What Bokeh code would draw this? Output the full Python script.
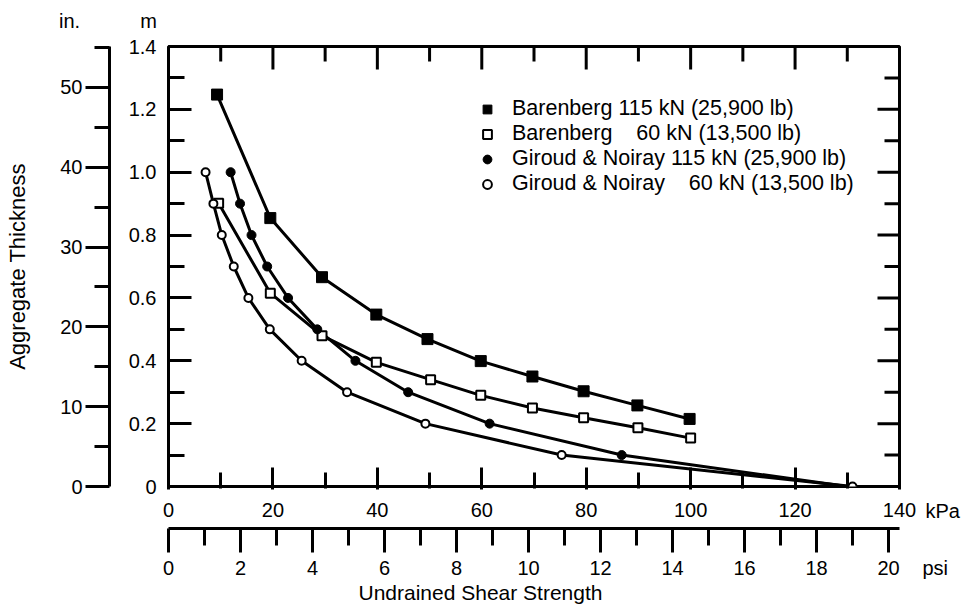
import math
from bokeh.plotting import figure
from bokeh.models import Range1d, LinearAxis, FixedTicker, Label, Legend, LegendItem
from bokeh.embed import file_html
from bokeh.resources import INLINE

# ---------------- data ----------------
bar115_kpa = [9.3, 19.5, 29.4, 39.8, 49.6, 59.8, 69.7, 79.5, 89.8, 99.8]
bar115_m = [1.247, 0.854, 0.666, 0.547, 0.469, 0.399, 0.350, 0.303, 0.258, 0.215]

bar60_kpa = [9.6, 19.5, 29.4, 39.8, 50.2, 59.8, 69.7, 79.5, 89.9, 100.0]
bar60_m = [0.901, 0.615, 0.480, 0.395, 0.340, 0.290, 0.250, 0.219, 0.187, 0.154]

gn115_kpa = [11.9, 13.7, 15.9, 18.9, 22.9, 28.5, 35.8, 45.9, 61.5, 86.8, 130.0]
gn115_m = [1.0, 0.9, 0.8, 0.7, 0.6, 0.5, 0.4, 0.3, 0.2, 0.1, 0.0]

gn60_kpa = [7.1, 8.6, 10.2, 12.5, 15.3, 19.4, 25.5, 34.2, 49.2, 75.3, 131.0]
gn60_m = [1.0, 0.9, 0.8, 0.7, 0.6, 0.5, 0.4, 0.3, 0.2, 0.1, 0.0]

series_labels = [
    "Barenberg 115 kN (25,900 lb)",
    "Barenberg\u00a0\u00a0\u00a0 60 kN (13,500 lb)",
    "Giroud & Noiray 115 kN (25,900 lb)",
    "Giroud & Noiray\u00a0\u00a0\u00a0 60 kN (13,500 lb)",
]

kpa_ticks = [0, 20, 40, 60, 80, 100, 120, 140]
kpa_minor = [10, 30, 50, 70, 90, 110, 130]
psi_ticks = [0, 2, 4, 6, 8, 10, 12, 14, 16, 18, 20]
psi_minor = [1, 3, 5, 7, 9, 11, 13, 15, 17, 19]
m_ticks = [0, 0.2, 0.4, 0.6, 0.8, 1.0, 1.2, 1.4]
m_labels = ["0", "0.2", "0.4", "0.6", "0.8", "1.0", "1.2", "1.4"]
m_minor = [0.1, 0.3, 0.5, 0.7, 0.9, 1.1, 1.3]
in_ticks = [0, 10, 20, 30, 40, 50]
in_minor = [5, 15, 25, 35, 45, 55]

KPA_MAX = 140.0
M_MAX = 1.4
PSI_PER_KPA = 1 / 6.894757
IN_PER_M = 1 / 0.0254

FONT = "Liberation Sans"
TICK_FS = "20px"
TITLE_FS = "22px"
LEGEND_FS = "21.5px"

p = figure(width=967, height=607,
           x_range=Range1d(0, KPA_MAX), y_range=Range1d(0, M_MAX),
           output_backend="svg", toolbar_location=None,
           min_border_left=168, min_border_right=68,
           min_border_top=46, min_border_bottom=121)
p.xgrid.visible = False
p.ygrid.visible = False
p.outline_line_color = "black"
p.outline_line_width = 3
p.background_fill_color = "white"
p.border_fill_color = "white"

p.extra_y_ranges = {"in": Range1d(0, M_MAX * IN_PER_M)}
p.extra_x_ranges = {"psi": Range1d(0, KPA_MAX * PSI_PER_KPA)}


def style_common(ax):
    ax.major_label_text_font = FONT
    ax.major_label_text_font_size = TICK_FS
    ax.major_label_text_color = "black"
    ax.major_tick_line_color = "black"
    ax.minor_tick_line_color = "black"
    ax.major_tick_line_width = 3
    ax.minor_tick_line_width = 3
    ax.axis_label_text_font_style = "normal"
    ax.axis_label_text_color = "black"


# kPa axis (bottom, next to frame)
xa = p.xaxis[0]
xa.ticker = FixedTicker(ticks=kpa_ticks, minor_ticks=kpa_minor)
style_common(xa)
xa.axis_line_color = None
xa.major_tick_in = 19
xa.major_tick_out = 3
xa.minor_tick_in = 14
xa.minor_tick_out = 2
xa.major_label_standoff = 13
xa.axis_label = " "
xa.axis_label_text_font_size = "1px"
xa.axis_label_standoff = 5

# m axis (left, next to frame)
ya = p.yaxis[0]
ya.ticker = FixedTicker(ticks=m_ticks, minor_ticks=m_minor)
ya.major_label_overrides = dict(zip(m_ticks, m_labels))
style_common(ya)
ya.axis_line_color = None
ya.major_tick_in = 23
ya.major_tick_out = 0
ya.minor_tick_in = 16
ya.minor_tick_out = 0
ya.major_label_standoff = 12
ya.axis_label = " "
ya.axis_label_text_font_size = "1px"
ya.axis_label_standoff = 12

# inch axis (outer left) carrying the axis title
ia = LinearAxis(y_range_name="in", ticker=FixedTicker(ticks=in_ticks, minor_ticks=in_minor))
style_common(ia)
ia.axis_line_color = "black"
ia.axis_line_width = 3
ia.major_tick_in = 0
ia.major_tick_out = 24
ia.minor_tick_in = 0
ia.minor_tick_out = 15
ia.major_label_standoff = 3
ia.axis_label = "Aggregate Thickness"
ia.axis_label_text_font = FONT
ia.axis_label_text_font_size = TITLE_FS
ia.axis_label_standoff = 27
p.add_layout(ia, "left")

# psi axis (outer bottom)
pa = LinearAxis(x_range_name="psi", ticker=FixedTicker(ticks=psi_ticks, minor_ticks=psi_minor))
style_common(pa)
pa.axis_line_color = "black"
pa.axis_line_width = 3
pa.major_tick_in = 0
pa.major_tick_out = 24
pa.minor_tick_in = 0
pa.minor_tick_out = 17
pa.major_label_standoff = 8
p.add_layout(pa, "below")

# inward ticks on the top and right edges of the frame
p.ray(x=kpa_ticks, y=[M_MAX] * len(kpa_ticks), length=23, length_units="screen",
      angle=-math.pi / 2, line_color="black", line_width=3)
p.ray(x=kpa_minor, y=[M_MAX] * len(kpa_minor), length=15, length_units="screen",
      angle=-math.pi / 2, line_color="black", line_width=3)
p.ray(x=[KPA_MAX] * len(m_ticks), y=m_ticks, length=22, length_units="screen",
      angle=math.pi, line_color="black", line_width=3)
p.ray(x=[KPA_MAX] * len(m_minor), y=m_minor, length=15, length_units="screen",
      angle=math.pi, line_color="black", line_width=3)

# ---------------- curves ----------------
LW = 3
p.line(bar115_kpa, bar115_m, line_color="black", line_width=LW)
p.line(bar60_kpa, bar60_m, line_color="black", line_width=LW)
p.line(gn115_kpa, gn115_m, line_color="black", line_width=LW)
p.line(gn60_kpa, gn60_m, line_color="black", line_width=LW)

r1 = p.scatter(bar115_kpa, bar115_m, marker="square", size=11,
               fill_color="black", line_color="black", line_width=1)
r2 = p.scatter(bar60_kpa, bar60_m, marker="square", size=9,
               fill_color="white", line_color="black", line_width=2)
r3 = p.scatter(gn115_kpa[:-1], gn115_m[:-1], marker="circle", size=9,
               fill_color="black", line_color="black", line_width=1)
r4 = p.scatter(gn60_kpa, gn60_m, marker="circle", size=8,
               fill_color="white", line_color="black", line_width=2)

legend = Legend(items=[LegendItem(label=series_labels[0], renderers=[r1]),
                       LegendItem(label=series_labels[1], renderers=[r2]),
                       LegendItem(label=series_labels[2], renderers=[r3]),
                       LegendItem(label=series_labels[3], renderers=[r4])],
                location=(308, 290), border_line_color=None,
                background_fill_alpha=0, padding=0, margin=0, spacing=-2,
                glyph_width=22, glyph_height=22, label_standoff=14,
                label_text_font=FONT, label_text_font_size=LEGEND_FS,
                label_text_color="black")
p.add_layout(legend)

# ---------------- side-panel text labels (units, axis title) ----------------
def side_label(side, x, y, text, size, align="center"):
    p.add_layout(Label(x=x, y=y, x_units="screen", y_units="screen", text=text,
                       text_font=FONT, text_font_size=size, text_color="black",
                       text_align=align, text_baseline="middle"), side)

side_label("above", -20, 26, "m", "20px")
side_label("above", -99, 4, "in.", "20px")
side_label("right", 26, -24, "kPa", "20px", align="left")
side_label("right", -11, -81, "psi", "20px", align="left")
side_label("below", 312, 8, "Undrained Shear Strength", "21px")

open("out.html", "w").write(file_html(p, INLINE))
